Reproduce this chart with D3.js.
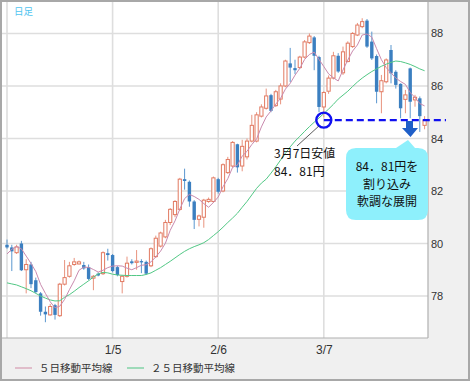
<!DOCTYPE html>
<html><head><meta charset="utf-8">
<script src="https://cdn.jsdelivr.net/npm/d3@7"></script>
<style>html,body{margin:0;padding:0;background:#fff;} svg{display:block}</style>
</head><body>
<script>
// ---- data ----
const opens = [79.95,79.85,79.65,80.0,79.0,79.2,78.6,78.1,77.4,77.28,
77.65,77.25,78.45,78.75,79.2,79.22,79.18,79.1,78.68,78.85,
78.85,79.63,79.56,79.1,78.55,78.75,79.32,79.28,79.33,79.3,
79.15,79.5,79.9,80.25,80.8,81.1,81.3,82.45,82.35,81.6,
80.92,81.0,81.6,81.6,82.45,82.0,82.7,82.95,83.78,82.95,
83.3,83.9,83.9,84.85,85.15,85.65,85.25,85.5,86.0,86.86,
86.68,86.7,87.1,87.65,87.85,87.1,85.2,85.8,86.3,87.15,
86.5,86.93,87.5,87.94,88.26,88.49,87.69,87.14,85.78,86.16,
87.37,86.54,86.08,85.49,86.67,85.47,85.53,84.5];
const highs = [80.15,79.95,79.95,80.1,79.4,79.3,78.7,78.15,77.6,77.7,
77.7,78.5,79.37,79.3,79.45,79.35,79.3,79.2,78.8,78.9,
79.7,79.8,79.6,79.15,78.8,79.5,79.4,79.75,79.4,79.35,
79.85,80.3,80.45,80.9,81.35,81.65,82.5,82.85,82.4,81.65,
81.1,81.7,81.75,82.55,82.5,83.05,83.3,83.9,83.8,83.95,
84.0,84.9,85.0,85.3,85.9,85.7,85.85,86.1,87.0,87.45,
87.0,87.15,87.75,88.0,87.9,87.15,85.8,86.4,87.3,87.25,
87.5,87.7,88.05,88.4,88.58,88.55,88.07,87.2,86.42,87.05,
87.56,86.6,86.1,85.85,86.7,85.66,85.6,84.85];
const lows = [79.8,78.95,79.6,78.95,78.1,78.3,78.1,77.25,77.0,77.25,
77.1,77.2,78.4,78.7,79.15,79.2,79.0,78.6,78.22,78.75,
78.8,79.35,78.9,78.75,78.1,78.7,79.2,79.0,78.87,78.8,
79.1,79.45,79.85,80.2,80.7,81.0,81.25,82.05,81.4,80.55,
80.65,80.6,81.55,81.55,81.9,81.95,82.65,82.9,82.7,82.75,
83.2,83.85,83.85,84.8,85.1,85.0,85.2,85.3,85.95,86.15,
86.45,86.65,87.05,87.6,86.6,85.0,84.81,85.7,86.25,86.5,
86.42,86.9,87.45,87.9,88.2,87.45,86.99,85.34,84.96,86.1,
86.1,85.9,84.77,84.96,84.77,85.21,84.25,84.35];
const closes = [79.85,79.7,79.87,78.98,79.2,78.45,78.15,77.4,77.3,77.6,
77.28,78.45,78.7,79.15,79.3,79.3,79.05,78.65,78.75,78.78,
79.65,79.56,78.95,78.8,78.75,79.25,79.25,79.33,79.28,78.85,
79.8,80.2,80.4,80.8,81.3,81.6,82.45,82.38,81.6,80.9,
81.05,81.65,81.68,82.5,81.97,83.0,83.2,83.85,82.9,83.7,
83.9,84.5,84.9,85.2,85.62,85.05,85.78,86.0,86.95,86.7,
86.6,87.1,87.68,87.9,87.15,85.2,85.75,86.3,87.15,86.55,
87.3,87.63,88.0,88.32,88.45,87.5,87.05,85.78,86.2,86.99,
86.48,86.04,85.15,85.66,85.4,85.57,84.85,84.7];
const ma5 = [79.6,79.78,79.88,79.8,79.52,79.24,78.93,78.44,78.1,77.78,
77.55,77.61,77.87,78.24,78.58,78.98,79.1,79.09,79.01,78.91,
78.98,79.08,79.14,79.15,79.14,79.06,79.0,79.08,79.17,79.19,
79.3,79.49,79.71,80.01,80.5,80.86,81.31,81.71,81.87,81.79,
81.68,81.52,81.38,81.56,81.77,82.16,82.47,82.9,82.98,83.33,
83.51,83.77,83.98,84.44,84.82,85.05,85.31,85.53,85.88,86.1,
86.41,86.67,87.01,87.2,87.29,87.01,86.74,86.46,86.31,86.19,
86.61,86.99,87.33,87.56,87.94,87.98,87.86,87.42,87.0,86.7,
86.5,86.3,86.17,86.06,85.75,85.56,85.33,85.24];
const ma25 = [78.5,78.46,78.42,78.35,78.28,78.2,78.1,78.0,77.92,77.85,
77.81,77.82,77.95,78.05,78.18,78.32,78.45,78.58,78.72,78.84,
78.9,78.88,78.83,78.8,78.79,78.78,78.78,78.78,78.78,78.82,
78.88,78.98,79.08,79.2,79.32,79.45,79.58,79.7,79.8,79.88,
79.95,80.03,80.15,80.3,80.45,80.62,80.8,80.97,81.15,81.38,
81.6,81.85,82.1,82.3,82.45,82.68,82.92,83.18,83.43,83.68,
83.9,84.08,84.27,84.45,84.62,84.78,84.95,85.12,85.3,85.5,
85.65,85.8,85.98,86.15,86.3,86.43,86.55,86.65,86.75,86.83,
86.9,86.95,86.93,86.88,86.82,86.74,86.65,86.58];
const yTicks = [78, 80, 82, 84, 86, 88];
const gridIdx = [0, 22, 44, 66];
const xTickIdx = [22, 44, 66];
const xTickLabels = ["1/5", "2/6", "3/7"];
const lowIdx = 66;
const supportLevel = 84.7;
const legendLabels = ["５日移動平均線", "２５日移動平均線"];
const periodLabel = "日足";
const noteLow = ["3月7日安値", "84．81円"];
const noteBox = ["84．81円を", "割り込み", "軟調な展開"];

// ---- drawing ----
const W = 472, H = 383;
const P = {l: 2, t: 2, r: 428, b: 338};
const jp = "'Noto Sans CJK JP', sans-serif";
const svg = d3.select("body").append("svg").attr("width", W).attr("height", H);
svg.append("rect").attr("x", 0).attr("y", 0).attr("width", W).attr("height", H).attr("fill", "#fff");
svg.append("rect").attr("x", 1).attr("y", 1).attr("width", 468).attr("height", 379)
  .attr("fill", "#f0f0f0").attr("stroke", "#a8a8a8").attr("stroke-width", 2);
svg.append("rect").attr("x", P.l).attr("y", P.t).attr("width", P.r - P.l).attr("height", P.b - P.t)
  .attr("fill", "#fff");

const x = d3.scaleLinear().domain([0, closes.length - 1]).range([7, 424.6]);
const y = d3.scaleLinear().domain([76.4, 89.16]).range([P.b, 3]);

// grid
svg.append("g").selectAll("line").data(yTicks).join("line")
  .attr("x1", P.l).attr("x2", P.r).attr("y1", d => y(d)).attr("y2", d => y(d))
  .attr("stroke", "#dedede").attr("stroke-width", 1.6);
svg.append("g").selectAll("line").data(gridIdx).join("line")
  .attr("x1", d => x(d)).attr("x2", d => x(d)).attr("y1", P.t).attr("y2", P.b)
  .attr("stroke", "#dedede").attr("stroke-width", 1.6);

// plot frame (right/bottom)
svg.append("line").attr("x1", P.r).attr("x2", P.r).attr("y1", P.t).attr("y2", P.b).attr("stroke", "#b0b0b0").attr("stroke-width", 1.2);
svg.append("line").attr("x1", P.l).attr("x2", P.r).attr("y1", P.b).attr("y2", P.b).attr("stroke", "#b0b0b0").attr("stroke-width", 1.2);

// axes
const yAxis = d3.axisRight(y).tickValues(yTicks).tickSize(0).tickPadding(3).tickFormat(d3.format("d"));
const ya = svg.append("g").attr("transform", `translate(${P.r},0)`).call(yAxis);
ya.select(".domain").remove();
ya.selectAll("text").attr("font-family", "'Liberation Sans', Arial, sans-serif").attr("font-size", 11).attr("fill", "#333");

const xAxis = d3.axisBottom(x).tickValues(xTickIdx).tickSize(0).tickPadding(7)
  .tickFormat((d, i) => xTickLabels[i]);
const xa = svg.append("g").attr("transform", `translate(0,${P.b})`).call(xAxis);
xa.select(".domain").remove();
xa.selectAll("text").attr("font-family", "'Liberation Sans', Arial, sans-serif").attr("font-size", 12).attr("fill", "#333");

// candles
const idx = d3.range(closes.length);
const up = i => closes[i] >= opens[i];
const cg = svg.append("g");
cg.selectAll("line").data(idx).join("line")
  .attr("x1", i => x(i)).attr("x2", i => x(i))
  .attr("y1", i => y(highs[i])).attr("y2", i => y(lows[i]))
  .attr("stroke", i => up(i) ? "#e8937e" : "#5b97cf").attr("stroke-width", 1);
cg.selectAll("rect").data(idx).join("rect")
  .attr("x", i => up(i) ? x(i) - 1.6 : x(i) - 1.7)
  .attr("width", i => up(i) ? 3.2 : 3.4)
  .attr("y", i => y(Math.max(opens[i], closes[i])))
  .attr("height", i => Math.max(1, Math.abs(y(opens[i]) - y(closes[i]))))
  .attr("fill", i => up(i) ? "#fff" : "#3b7fc0")
  .attr("stroke", i => up(i) ? "#e27a62" : "none").attr("stroke-width", 1);

// moving averages
const line = d3.line().x((d, i) => x(i)).y(d => y(d));
svg.append("path").datum(ma25).attr("d", line).attr("fill", "none").attr("stroke", "#52c885").attr("stroke-width", 1);
svg.append("path").datum(ma5).attr("d", line).attr("fill", "none").attr("stroke", "#c98aae").attr("stroke-width", 1);

// period label
svg.append("text").attr("x", 14).attr("y", 15).text(periodLabel)
  .attr("font-family", jp).attr("font-size", 9.5).attr("fill", "#4fc4f0");

// annotation: low circle, dashed line
const cx = x(lowIdx), cy = y(supportLevel);
svg.append("line").attr("x1", cx).attr("x2", 446).attr("y1", cy).attr("y2", cy)
  .attr("stroke", "#1010f0").attr("stroke-width", 2.4).attr("stroke-dasharray", "7,4");
svg.append("circle").attr("cx", cx).attr("cy", cy).attr("r", 7.5)
  .attr("fill", "none").attr("stroke", "#1010f0").attr("stroke-width", 2.4);
svg.append("line").attr("x1", cx - 5).attr("y1", cy + 6).attr("x2", 297).attr("y2", 146)
  .attr("stroke", "#333").attr("stroke-width", 0.8);
svg.append("g").selectAll("text").data(noteLow).join("text")
  .attr("x", 274).attr("y", (d, i) => 158 + i * 17.5).text(d => d)
  .attr("font-family", jp).attr("font-size", 12).attr("fill", "#111");

// arrow
svg.append("path").attr("d", "M406,121 L413,121 L413,128 L418,128 L410.5,137 L402,128 L406,128 Z")
  .attr("fill", "#1f5fc8");

// callout
svg.append("path")
  .attr("d", "M356,148 L396,148 L408,140 L415,148 L418,148 Q428,148 428,158 L428,210 Q428,220 418,220 L356,220 Q346,220 346,210 L346,158 Q346,148 356,148 Z")
  .attr("fill", "#8ef0fc");
svg.append("g").selectAll("text").data(noteBox).join("text")
  .attr("x", 387).attr("y", (d, i) => 171 + i * 17.5).attr("text-anchor", "middle").text(d => d)
  .attr("font-family", jp).attr("font-size", 12).attr("fill", "#111");

// legend
const lg = svg.append("g");
const legColors = ["#d08aa4", "#4cc482"];
const legX = [15, 127];
legendLabels.forEach((t, i) => {
  lg.append("line").attr("x1", legX[i]).attr("x2", legX[i] + 17).attr("y1", 368).attr("y2", 368)
    .attr("stroke", legColors[i]).attr("stroke-width", 1);
  lg.append("text").attr("x", legX[i] + 24).attr("y", 372).text(t)
    .attr("font-family", jp).attr("font-size", 10.5).attr("fill", "#333");
});
</script>
</body></html>
